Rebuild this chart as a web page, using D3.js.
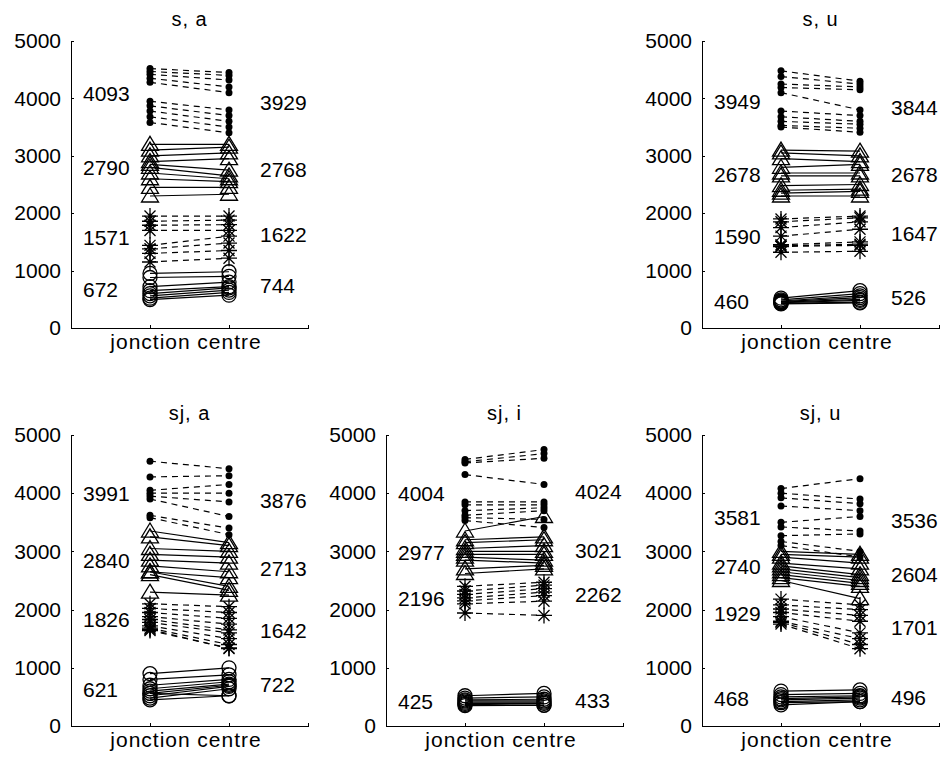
<!DOCTYPE html>
<html>
<head>
<meta charset="utf-8">
<script src="https://cdn.jsdelivr.net/npm/d3@7"></script>
<style>
html,body{margin:0;padding:0;background:#fff;}
svg{display:block;}
text{font-family:"Liberation Sans",Arial,sans-serif;fill:#000;}
</style>
</head>
<body>
<svg id="chart" width="940" height="761"></svg>
<script>
// ---------- DATA ----------
const panelTitles = ["s, a", "s, u", "sj, a", "sj, i", "sj, u"];
const xCategories = ["jonction", "centre"];
const yTicks = [0, 1000, 2000, 3000, 4000, 5000];

// F1 (circles, solid)
const F1_jonction = [
  [950, 880, 720, 650, 600, 560, 520, 496],
  [520, 490, 470, 460, 450, 440, 430, 420],
  [900, 800, 700, 640, 600, 560, 520, 480, 450, 560],
  [520, 480, 450, 430, 410, 390, 370, 350],
  [600, 540, 500, 470, 450, 420, 400, 364]
];
const F1_centre = [
  [980, 900, 800, 720, 700, 660, 620, 572],
  [650, 600, 560, 530, 500, 480, 450, 438],
  [1000, 880, 800, 760, 720, 700, 680, 640, 520, 520],
  [560, 500, 460, 430, 410, 390, 360, 354],
  [620, 560, 520, 500, 480, 450, 420, 418]
];
// F2 (stars, dashed)
const F2_jonction = [
  [1950, 1860, 1790, 1700, 1440, 1380, 1300, 1150],
  [1900, 1850, 1750, 1600, 1450, 1430, 1420, 1320],
  [2100, 2020, 1950, 1880, 1830, 1780, 1720, 1680, 1660, 1640],
  [2400, 2320, 2260, 2200, 2150, 2100, 1942],
  [2180, 2080, 2010, 1950, 1880, 1800, 1780, 1752]
];
const F2_centre = [
  [1950, 1880, 1800, 1700, 1600, 1480, 1350, 1216],
  [1950, 1920, 1850, 1720, 1500, 1460, 1440, 1336],
  [2050, 1950, 1850, 1750, 1650, 1600, 1500, 1400, 1330, 1340],
  [2470, 2420, 2360, 2300, 2240, 2144, 1900],
  [2080, 2000, 1900, 1800, 1600, 1500, 1400, 1328]
];
// F3 (triangles, solid)
const F3_jonction = [
  [3200, 3100, 3000, 2900, 2850, 2800, 2700, 2600, 2450, 2300],
  [3100, 3050, 2950, 2800, 2700, 2650, 2480, 2400, 2350, 2300],
  [3350, 3250, 3050, 2950, 2850, 2750, 2650, 2650, 2600, 2300],
  [3350, 3200, 3150, 3050, 3000, 2950, 2900, 2850, 2700, 2620],
  [3000, 2950, 2900, 2800, 2750, 2700, 2650, 2600, 2550, 2500]
];
const F3_centre = [
  [3200, 3150, 3050, 2950, 2750, 2650, 2600, 2550, 2450, 2330],
  [3080, 3000, 2900, 2850, 2700, 2650, 2500, 2420, 2380, 2300],
  [3150, 3100, 3000, 2900, 2800, 2650, 2550, 2400, 2330, 2250],
  [3600, 3250, 3200, 3100, 3000, 2950, 2850, 2800, 2760, 2700],
  [2950, 2900, 2800, 2700, 2600, 2550, 2500, 2450, 2400, 2190]
];
// F4 (dots, dashed)
const F4_jonction = [
  [4520, 4470, 4420, 4350, 4280, 3950, 3870, 3780, 3680, 3580],
  [4480, 4380, 4250, 4190, 4100, 3780, 3680, 3600, 3530, 3500],
  [4550, 4280, 4050, 4000, 3950, 3900, 3620, 3580],
  [4580, 4540, 4520, 4320, 3850, 3800, 3700, 3620, 3580, 3530],
  [4080, 4000, 3920, 3780, 3500, 3420, 3270, 3170, 3100]
];
const F4_centre = [
  [4450, 4400, 4320, 4200, 4100, 3800, 3700, 3600, 3500, 3400],
  [4300, 4250, 4200, 4150, 3800, 3700, 3600, 3550, 3480, 3410],
  [4420, 4300, 4150, 4000, 3850, 3600, 3400, 3288],
  [4750, 4680, 4600, 4150, 3850, 3800, 3750, 3700, 3550, 3410],
  [4250, 3900, 3820, 3700, 3600, 3350, 3300, 3000, 2904]
];
// Mean labels, order F1, F2, F3, F4
const meanJonction = [
  [672, 1571, 2790, 4093],
  [460, 1590, 2678, 3949],
  [621, 1826, 2840, 3991],
  [425, 2196, 2977, 4004],
  [468, 1929, 2740, 3581]
];
const meanCentre = [
  [744, 1622, 2768, 3929],
  [526, 1647, 2678, 3844],
  [722, 1642, 2713, 3876],
  [433, 2262, 3021, 4024],
  [496, 1701, 2604, 3536]
];

// ---------- LAYOUT ----------
const panelBoxes = [
  {x0: 71,  y0: 328, y1: 41},
  {x0: 702, y0: 328, y1: 41},
  {x0: 71,  y0: 726, y1: 435},
  {x0: 386, y0: 726, y1: 435},
  {x0: 702, y0: 726, y1: 435}
];
const axisWidth = 237;

const formants = [
  {j: F1_jonction, c: F1_centre, marker: "circle",   dash: null},
  {j: F2_jonction, c: F2_centre, marker: "star",     dash: "6,5"},
  {j: F3_jonction, c: F3_centre, marker: "triangle", dash: null},
  {j: F4_jonction, c: F4_centre, marker: "dot",      dash: "6,5"}
];

const svg = d3.select("#chart");

function drawMarker(g, type, x, y) {
  if (type === "circle") {
    g.append("circle").attr("cx", x).attr("cy", y).attr("r", 7)
      .attr("fill", "none").attr("stroke", "#000").attr("stroke-width", 1.3);
  } else if (type === "dot") {
    g.append("circle").attr("cx", x).attr("cy", y).attr("r", 3.5)
      .attr("fill", "#000").attr("stroke", "none");
  } else if (type === "triangle") {
    g.append("path").attr("transform", `translate(${x},${y})`)
      .attr("d", "M0,-8L8.5,6H-8.5Z")
      .attr("fill", "none").attr("stroke", "#000").attr("stroke-width", 1.3);
  } else if (type === "star") {
    g.append("path").attr("transform", `translate(${x},${y})`)
      .attr("d", "M-8,0H8M0,-8V8M-5.5,-5.5L5.5,5.5M-5.5,5.5L5.5,-5.5")
      .attr("fill", "none").attr("stroke", "#000").attr("stroke-width", 1.3);
  }
}

panelTitles.forEach((title, p) => {
  const box = panelBoxes[p];
  const x = d3.scaleLinear().domain([0, 3]).range([box.x0, box.x0 + axisWidth]);
  const y = d3.scaleLinear().domain([0, 5000]).range([box.y0, box.y1]);
  const g = svg.append("g");

  // y axis
  const ya = g.append("g").attr("transform", `translate(${box.x0},0)`)
    .call(d3.axisLeft(y).tickValues(yTicks).tickFormat(d3.format("d"))
      .tickSizeInner(-3).tickSizeOuter(0).tickPadding(10));
  // x axis
  const xa = g.append("g").attr("transform", `translate(0,${box.y0})`)
    .call(d3.axisBottom(x).tickValues([1, 2]).tickFormat((d) => xCategories[d - 1])
      .tickSizeInner(-3).tickSizeOuter(-3).tickPadding(6));
  [ya, xa].forEach(a => {
    a.selectAll("path,line").attr("stroke", "#000").attr("stroke-width", 1).attr("shape-rendering", "crispEdges");
    a.selectAll("text").attr("font-size", 21).attr("font-family", "Liberation Sans, Arial, sans-serif");
  });
  xa.selectAll("text").attr("letter-spacing", "1px");

  // title
  g.append("text").attr("x", x(1.5)).attr("y", box.y1 - 15)
    .attr("text-anchor", "middle").attr("font-size", 20).attr("letter-spacing", "1px")
    .text(title);

  // lines and markers
  formants.forEach((f, fi) => {
    const jv = f.j[p], cv = f.c[p];
    jv.forEach((v, i) => {
      const line = g.append("line")
        .attr("x1", x(1)).attr("y1", y(v))
        .attr("x2", x(2)).attr("y2", y(cv[i]))
        .attr("stroke", "#000").attr("stroke-width", 1.2);
      if (f.dash) line.attr("stroke-dasharray", f.dash);
    });
    jv.forEach(v => drawMarker(g, f.marker, x(1), y(v)));
    cv.forEach(v => drawMarker(g, f.marker, x(2), y(v)));

    // mean labels
    g.append("text").attr("x", x(0.152)).attr("y", y(meanJonction[p][fi]))
      .attr("dy", "0.36em").attr("font-size", 21).text(meanJonction[p][fi]);
    g.append("text").attr("x", x(2.392)).attr("y", y(meanCentre[p][fi]))
      .attr("dy", "0.36em").attr("font-size", 21).text(meanCentre[p][fi]);
  });
});
</script>
</body>
</html>
